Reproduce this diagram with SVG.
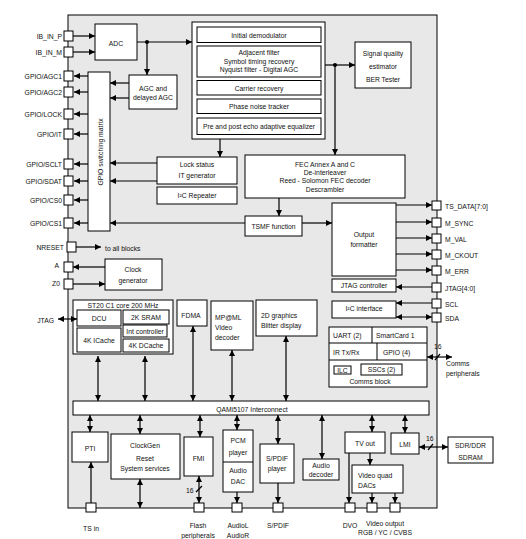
<svg xmlns="http://www.w3.org/2000/svg" width="526" height="539" viewBox="0 0 526 539">
<style>
text{font-family:"Liberation Sans",Arial,sans-serif;font-size:6.8px;fill:#111;dominant-baseline:central}
.m{text-anchor:middle}
.e{text-anchor:end}
.b{fill:#fff;stroke:#000;stroke-width:1}
.p{fill:#fff;stroke:#000;stroke-width:1}
.c path{fill:none;stroke:#000;stroke-width:1.2}
</style>
<defs>
<marker id="a" viewBox="0 0 10 10" refX="10" refY="5" markerWidth="6" markerHeight="6" orient="auto-start-reverse" markerUnits="userSpaceOnUse"><path d="M0,0 L10,5 L0,10 z" fill="#000"/></marker>
</defs>
<rect id="chip" x="68" y="15" width="369" height="493" fill="#e8e8e8" stroke="#000" stroke-width="1"/>

<g id="adc"><rect class="b" x="95" y="24" width="42" height="36"/><text class="m" x="116" y="43">ADC</text></g>
<g id="agc"><rect class="b" x="129" y="75" width="48" height="34"/><text class="m" x="153" y="88">AGC and</text><text class="m" x="153" y="97">delayed AGC</text></g>
<g id="matrix"><rect class="b" x="88" y="72" width="22" height="159"/><text class="m" transform="translate(100,152) rotate(-90)">GPIO switching matrix</text></g>
<g id="demod"><rect class="b" x="192" y="22" width="133" height="117"/>
<rect class="b" x="197" y="27" width="124" height="15.5"/><text class="m" x="259" y="35">Initial demodulator</text>
<rect class="b" x="197" y="46" width="124" height="31"/><text class="m" x="259" y="52.5">Adjacent filter</text><text class="m" x="259" y="61">Symbol timing recovery</text><text class="m" x="259" y="69.5">Nyquist filter - Digital AGC</text>
<rect class="b" x="197" y="80.5" width="124" height="14.5"/><text class="m" x="259" y="88">Carrier recovery</text>
<rect class="b" x="197" y="99" width="124" height="14.5"/><text class="m" x="259" y="106.5">Phase noise tracker</text>
<rect class="b" x="197" y="118" width="124" height="16.5"/><text class="m" x="259" y="126.5">Pre and post echo adaptive equalizer</text></g>
<g id="sq"><rect class="b" x="355" y="42" width="56" height="46"/><text class="m" x="383" y="53">Signal quality</text><text class="m" x="383" y="66">estimator</text><text class="m" x="383" y="79">BER Tester</text></g>
<g id="lock"><rect class="b" x="157" y="157" width="80" height="27"/><text class="m" x="197" y="164">Lock status</text><text class="m" x="197" y="175">IT generator</text></g>
<g id="i2crep"><rect class="b" x="157" y="187" width="80" height="17"/><text class="m" x="197" y="195.5">I²C Repeater</text></g>
<g id="fec"><rect class="b" x="245" y="155" width="160" height="43"/><text class="m" x="325" y="164">FEC Annex A and C</text><text class="m" x="325" y="172">De-interleaver</text><text class="m" x="325" y="180">Reed - Solomon FEC decoder</text><text class="m" x="325" y="189">Descrambler</text></g>
<g id="tsmf"><rect class="b" x="245" y="216" width="57" height="20"/><text class="m" x="273.5" y="226.5">TSMF function</text></g>
<g id="ofmt"><rect class="b" x="332" y="203" width="64" height="73"/><text class="m" x="364" y="234">Output</text><text class="m" x="364" y="244">formatter</text></g>
<g id="jtagc"><rect class="b" x="332" y="279" width="64" height="13"/><text class="m" x="364" y="285.5">JTAG controller</text></g>
<g id="i2ci"><rect class="b" x="332" y="301" width="64" height="17"/><text class="m" x="364" y="308">I²C interface</text></g>
<g id="clkgen"><rect class="b" x="105" y="259" width="57" height="31"/><text class="m" x="133" y="269">Clock</text><text class="m" x="133" y="280">generator</text></g>
<g id="st20"><rect class="b" x="73" y="300" width="100" height="54"/><text class="m" x="123" y="305">ST20 C1 core 200 MHz</text>
<rect class="b" x="77" y="310" width="44" height="16"/><text class="m" x="99" y="318">DCU</text>
<rect class="b" x="77" y="328" width="44" height="24"/><text class="m" x="99" y="340.5">4K ICache</text>
<rect class="b" x="123" y="310" width="46" height="14"/><text class="m" x="146" y="317">2K SRAM</text>
<rect class="b" x="123" y="325" width="44" height="12"/><text class="m" x="145" y="331">Int controller</text>
<rect class="b" x="123" y="339" width="46" height="13"/><text class="m" x="146" y="345.5">4K DCache</text></g>
<g id="fdma"><rect class="b" x="177" y="300" width="30" height="26"/><text class="m" x="191" y="315">FDMA</text></g>
<g id="mpml"><rect class="b" x="211" y="301" width="42" height="49"/><text x="215" y="317">MP@ML</text><text x="215" y="327">Video</text><text x="215" y="337">decoder</text></g>
<g id="gfx"><rect class="b" x="256" y="300" width="61" height="36"/><text x="261" y="315">2D graphics</text><text x="261" y="325">Blitter display</text></g>
<g id="comms"><rect class="b" x="329" y="327" width="98" height="60"/>
<path d="M329,343 H427 M329,360 H427 M372,327 V343 M377,343 V360" stroke="#000" fill="none"/>
<text x="333" y="335">UART (2)</text><text x="376" y="335">SmartCard 1</text>
<text x="333" y="352">IR Tx/Rx</text><text x="383" y="352">GPIO (4)</text>
<rect class="b" x="334" y="366" width="17" height="8"/><text class="m" x="342.5" y="370">ILC</text>
<rect class="b" x="361" y="364" width="41" height="11"/><text class="m" x="381.5" y="369.5">SSCs (2)</text>
<text class="m" x="370" y="381">Comms block</text></g>
<g id="bus"><rect class="b" x="73" y="401" width="356" height="14"/><text class="m" x="252" y="409">QAMi5107 Interconnect</text></g>
<g id="pti"><rect class="b" x="72" y="432" width="36" height="30"/><text class="m" x="90" y="448">PTI</text></g>
<g id="clockgen"><rect class="b" x="111" y="434" width="69" height="45"/><text class="m" x="145" y="445">ClockGen</text><text class="m" x="145" y="458">Reset</text><text class="m" x="145" y="468">System services</text></g>
<g id="fmi"><rect class="b" x="184" y="437" width="29" height="39"/><text class="m" x="198.5" y="458">FMI</text></g>
<g id="pcm"><rect class="b" x="223" y="430" width="30" height="62"/><path d="M223,462 H253" stroke="#000"/><text class="m" x="238" y="440">PCM</text><text class="m" x="238" y="452">player</text><text class="m" x="238" y="470">Audio</text><text class="m" x="238" y="481">DAC</text></g>
<g id="spdif"><rect class="b" x="260" y="444" width="34" height="39"/><text class="m" x="277" y="458">S/PDIF</text><text class="m" x="277" y="468">player</text></g>
<g id="adec"><rect class="b" x="303" y="459" width="36" height="21"/><text class="m" x="321" y="465">Audio</text><text class="m" x="321" y="474">decoder</text></g>
<g id="tvout"><rect class="b" x="345" y="432" width="40" height="21"/><text class="m" x="365" y="443">TV out</text></g>
<g id="vdac"><rect class="b" x="352" y="465" width="51" height="28"/><text x="358" y="475">Video quad</text><text x="358" y="485">DACs</text></g>
<g id="lmi"><rect class="b" x="391" y="433" width="28" height="21"/><text class="m" x="405" y="444">LMI</text></g>
<g id="sdram"><rect class="b" x="448" y="437" width="45" height="26"/><text class="m" x="470.5" y="445">SDR/DDR</text><text class="m" x="470.5" y="457">SDRAM</text></g>

<g id="pins">
<rect class="p" x="64" y="31" width="9" height="10"/><rect class="p" x="64" y="47" width="9" height="10"/>
<rect class="p" x="64" y="71" width="9" height="10"/><rect class="p" x="64" y="87" width="9" height="10"/>
<rect class="p" x="64" y="109" width="9" height="10"/><rect class="p" x="64" y="129" width="9" height="10"/>
<rect class="p" x="64" y="159" width="9" height="10"/><rect class="p" x="64" y="176" width="9" height="10"/>
<rect class="p" x="64" y="195" width="9" height="10"/><rect class="p" x="64" y="218" width="9" height="10"/>
<rect class="p" x="67" y="242" width="9" height="10"/><rect class="p" x="64" y="262" width="9" height="10"/>
<rect class="p" x="64" y="279" width="9" height="10"/>
<rect class="p" x="432" y="201" width="9" height="9"/><rect class="p" x="432" y="218" width="9" height="9"/>
<rect class="p" x="432" y="234" width="9" height="9"/><rect class="p" x="432" y="250" width="9" height="9"/>
<rect class="p" x="432" y="266" width="9" height="9"/><rect class="p" x="432" y="283" width="9" height="9"/>
<rect class="p" x="432" y="299" width="9" height="9"/><rect class="p" x="432" y="313" width="9" height="9"/>
<rect class="p" x="86" y="503" width="10" height="9"/><rect class="p" x="194" y="503" width="10" height="9"/>
<rect class="p" x="232" y="503" width="10" height="9"/><rect class="p" x="273" y="503" width="10" height="9"/>
<rect class="p" x="345" y="503" width="10" height="9"/><rect class="p" x="367" y="503" width="10" height="9"/>
<rect class="p" x="390" y="503" width="10" height="9"/>
</g>

<g id="labels">
<text class="e" x="62" y="36">IB_IN_P</text><text class="e" x="62" y="52">IB_IN_M</text>
<text class="e" x="62" y="76">GPIO/AGC1</text><text class="e" x="62" y="92">GPIO/AGC2</text>
<text class="e" x="62" y="114">GPIO/LOCK</text><text class="e" x="62" y="134">GPIO/IT</text>
<text class="e" x="62" y="164">GPIO/SCLT</text><text class="e" x="62" y="181">GPIO/SDAT</text>
<text class="e" x="62" y="200">GPIO/CS0</text><text class="e" x="62" y="223">GPIO/CS1</text>
<text class="e" x="64" y="247">NRESET</text><text class="e" x="59" y="265">A</text><text class="e" x="60" y="283">Z0</text>
<text x="105" y="248">to all blocks</text>
<text class="e" x="54" y="320">JTAG</text>
<text x="445" y="206">TS_DATA[7:0]</text><text x="445" y="223">M_SYNC</text><text x="445" y="239">M_VAL</text>
<text x="445" y="255">M_CKOUT</text><text x="445" y="271">M_ERR</text><text x="445" y="288">JTAG[4:0]</text>
<text x="445" y="304">SCL</text><text x="445" y="318">SDA</text>
<text x="434" y="346">16</text><text x="446" y="363">Comms</text><text x="446" y="373">peripherals</text>
<text x="426" y="438">16</text>
<text x="186" y="490">16</text>
<text class="m" x="91" y="528">TS in</text>
<text class="m" x="198" y="525">Flash</text><text class="m" x="198" y="535">peripherals</text>
<text class="m" x="238" y="525">AudioL</text><text class="m" x="238" y="535">AudioR</text>
<text class="m" x="278" y="525">S/PDIF</text>
<text class="m" x="350" y="525">DVO</text>
<text class="m" x="385" y="523">Video output</text><text class="m" x="385" y="532">RGB / YC / CVBS</text>
</g>

<g id="connectors" class="c">
<path d="M73,36 H95" marker-end="url(#a)"/><path d="M73,52 H95" marker-end="url(#a)"/>
<path d="M88,76 H74" marker-end="url(#a)"/><path d="M88,92 H74" marker-end="url(#a)"/>
<path d="M88,114 H74" marker-end="url(#a)"/><path d="M88,134 H74" marker-end="url(#a)"/>
<path d="M88,164 H74" marker-end="url(#a)"/><path d="M88,181 H74" marker-end="url(#a)"/>
<path d="M88,200 H74" marker-end="url(#a)"/><path d="M88,223 H74" marker-end="url(#a)"/>
<path d="M129,83 H110" marker-end="url(#a)"/><path d="M129,98 H110" marker-end="url(#a)"/>
<path d="M157,163 H110" marker-end="url(#a)"/><path d="M157,181 H110" marker-end="url(#a)"/>
<path d="M245,223 H110" marker-end="url(#a)"/>
<path d="M137,42 H192" marker-end="url(#a)"/><path d="M147,42 V75" marker-end="url(#a)"/>
<path d="M220,139 V157" marker-end="url(#a)"/>
<path d="M325,65 H355" marker-end="url(#a)"/><path d="M335,65 V155" marker-end="url(#a)"/>
<path d="M279,198 V216" marker-end="url(#a)"/>
<path d="M302,223 H332" marker-end="url(#a)"/>
<path d="M396,205 H432" marker-end="url(#a)"/><path d="M396,222 H432" marker-end="url(#a)"/>
<path d="M396,238 H432" marker-end="url(#a)"/><path d="M396,254 H432" marker-end="url(#a)"/>
<path d="M396,270 H432" marker-end="url(#a)"/>
<path d="M432,287 H396" marker-end="url(#a)"/><path d="M432,303 H396" marker-end="url(#a)"/>
<path d="M396,317 H432" marker-start="url(#a)" marker-end="url(#a)"/>
<path d="M76,247 H101" marker-end="url(#a)"/>
<path d="M105,267 H73" marker-end="url(#a)"/><path d="M73,284 H105" marker-end="url(#a)"/>
<path d="M58,319 H77" marker-start="url(#a)" marker-end="url(#a)"/>
<path d="M98,356 V401" marker-start="url(#a)" marker-end="url(#a)"/>
<path d="M145,356 V401" marker-start="url(#a)" marker-end="url(#a)"/>
<path d="M193,326 V401" marker-start="url(#a)" marker-end="url(#a)"/>
<path d="M232,350 V401" marker-start="url(#a)" marker-end="url(#a)"/>
<path d="M286,336 V401" marker-start="url(#a)" marker-end="url(#a)"/>
<path d="M427,357 H452" marker-start="url(#a)" marker-end="url(#a)"/>
<path d="M435,360 L440,354" stroke-width="0.6"/>
<path d="M90,415 V432" marker-start="url(#a)" marker-end="url(#a)"/>
<path d="M91,503 V462" marker-end="url(#a)"/>
<path d="M140,415 V434" marker-start="url(#a)" marker-end="url(#a)"/>
<path d="M140,479 V508" marker-start="url(#a)" marker-end="url(#a)"/>
<path d="M200,415 V437" marker-start="url(#a)" marker-end="url(#a)"/>
<path d="M199,476 V503" marker-start="url(#a)" marker-end="url(#a)"/>
<path d="M196,492 L202,486" stroke-width="0.6"/>
<path d="M237,415 V430" marker-start="url(#a)" marker-end="url(#a)"/>
<path d="M237,492 V503" marker-end="url(#a)"/>
<path d="M278,415 V444" marker-start="url(#a)" marker-end="url(#a)"/>
<path d="M278,483 V503" marker-end="url(#a)"/>
<path d="M322,415 V459" marker-start="url(#a)" marker-end="url(#a)"/>
<path d="M372,415 V432" marker-start="url(#a)" marker-end="url(#a)"/>
<path d="M349,453 V503" marker-end="url(#a)"/>
<path d="M370,453 V465" marker-end="url(#a)"/>
<path d="M372,493 V503" marker-end="url(#a)"/><path d="M395,493 V503" marker-end="url(#a)"/>
<path d="M405,415 V433" marker-start="url(#a)" marker-end="url(#a)"/>
<path d="M419,447 H448" marker-start="url(#a)" marker-end="url(#a)"/>
<path d="M428,450 L433,444" stroke-width="0.6"/>
<circle cx="147" cy="42" r="2" fill="#000"/><circle cx="335" cy="65" r="2" fill="#000"/>
</g>
</svg>
